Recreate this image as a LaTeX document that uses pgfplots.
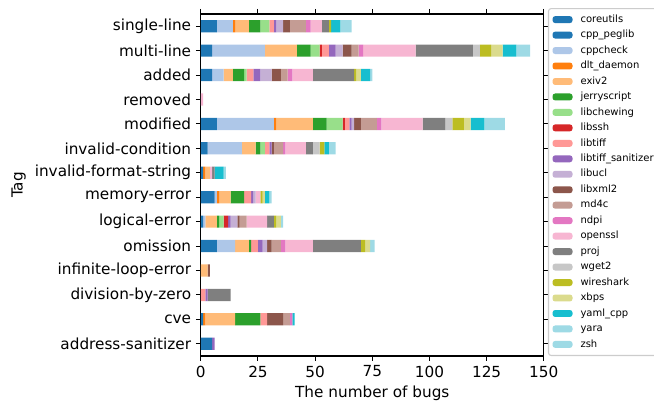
\documentclass[border=0pt]{standalone}
\usepackage{pgfplots}
\pgfplotsset{compat=1.18}
\usepackage{pgfplotstable}
\usepackage{fontspec}
\setmainfont{DejaVu Sans}
\definecolor{c0}{HTML}{1F77B4}
\definecolor{c1}{HTML}{AEC7E8}
\definecolor{c2}{HTML}{FF7F0E}
\definecolor{c3}{HTML}{FFBB78}
\definecolor{c4}{HTML}{2CA02C}
\definecolor{c5}{HTML}{98DF8A}
\definecolor{c6}{HTML}{D62728}
\definecolor{c7}{HTML}{FF9896}
\definecolor{c8}{HTML}{9467BD}
\definecolor{c9}{HTML}{C5B0D5}
\definecolor{c10}{HTML}{8C564B}
\definecolor{c11}{HTML}{C49C94}
\definecolor{c12}{HTML}{E377C2}
\definecolor{c13}{HTML}{F7B6D2}
\definecolor{c14}{HTML}{7F7F7F}
\definecolor{c15}{HTML}{C7C7C7}
\definecolor{c16}{HTML}{BCBD22}
\definecolor{c17}{HTML}{DBDB8D}
\definecolor{c18}{HTML}{17BECF}
\definecolor{c19}{HTML}{9EDAE5}

% rows: 0 address-sanitizer ... 13 single-line
\pgfplotstableread{
y  co cp cc dl ex je ch ss ti ts uc xm md nd os pr wg ws xb ya yr zs
0  5  0  0  0  0  0  0  0  0  1  0  0  0  0  0  0  0  0  0  0  0  0
1  1  0  0  1  13 11 0  0  3  0  0  7  3  1  0  0  0  0  0  1  0  0
2  0  0  0  0  0  0  0  0  2  1  0  0  0  0  0  10 0  0  0  0  0  0
3  0  0  0  0  3  0  0  0  0  0  0  1  0  0  0  0  0  0  0  0  0  0
4  7  0  8  0  6  1  0  0  3  2  2  2  4  2  12 21 0  2  2  0  2  0
5  1  0  1  0  5  1  2  2  0  1  3  1  3  0  9  3  0  1  2  0  1  0
6  6  0  1  1  5  6  0  0  3  1  1  0  0  0  2  0  0  1  1  2  1  0
7  1  0  0  1  2  0  0  0  0  0  0  0  0  0  1  1  0  0  0  4  1  0
8  3  0  15 0  6  2  2  0  2  1  0  1  4  1  9  3  3  2  0  2  3  0
9  7  0  25 1  16 6  7  1  2  1  1  3  7  2  18 10 3  5  3  6  9  0
10 0  0  0  0  0  0  0  0  0  0  0  0  0  0  1  0  0  0  0  0  0  0
11 5  0  5  0  4  5  1  0  3  3  5  4  3  2  9  18 0  1  2  4  1  0
12 5  0  23 0  14 6  4  1  3  3  3  4  3  2  23 25 3  5  5  6  6  0
13 7  0  7  1  6  5  4  0  2  1  3  3  7  2  5  3  0  1  0  4  5  0
}\data

\begin{document}
\begin{tikzpicture}
\path[use as bounding box] (-150.6pt,-35.25pt) rectangle (339.9pt,267pt);
\begin{axis}[
  at={(0,0)}, anchor=south west,
  scale only axis,
  width=257.25pt, height=256.5pt,
  xbar stacked, bar width=0.5,
  xmin=0, xmax=150, ymin=-0.5, ymax=13.5,
  xtick={0,25,...,150},
  ytick={0,...,13},
  yticklabels={address-sanitizer,cve,division-by-zero,infinite-loop-error,omission,logical-error,memory-error,invalid-format-string,invalid-condition,modified,removed,added,multi-line,single-line},
  tick align=outside,
  major tick length=3.75pt,
  tick style={black, line width=0.8pt},
  axis line style={black, line width=0.8pt},
  ticklabel style={font=\fontsize{11.45}{13}\selectfont},
  label style={font=\fontsize{11.45}{13}\selectfont},
  /pgf/number format/assume math mode=true,
  xlabel={The number of bugs},
  ylabel={Tag},
  xlabel style={at={(axis description cs:0.5,-0.1082)}, anchor=center},
  ylabel style={at={(axis description cs:-0.5314,0.5)}, anchor=center},
  every axis plot/.append style={draw=none},
  legend cell align=left,
  legend image code/.code={\fill[#1,draw=none] (0pt,-2.6pt) rectangle (15pt,2.6pt);},
  legend style={
    at={(1.0122,1.0175)}, anchor=north west,
    draw=black!20, line width=0.8pt, rounded corners=2pt, fill=white,
    font=\fontsize{7.5}{9}\selectfont,
    inner xsep=3pt, inner ysep=4.5pt,
    row sep=4pt, column sep=6pt,
    nodes={inner sep=0pt, text height=5.8pt, text depth=1.8pt},
  },
]
\addplot[fill=c0]  table[x=co,y=y]{\data}; \addlegendentry{coreutils}
\addplot[fill=c0]  table[x=cp,y=y]{\data}; \addlegendentry{cpp\_peglib}
\addplot[fill=c1]  table[x=cc,y=y]{\data}; \addlegendentry{cppcheck}
\addplot[fill=c2]  table[x=dl,y=y]{\data}; \addlegendentry{dlt\_daemon}
\addplot[fill=c3]  table[x=ex,y=y]{\data}; \addlegendentry{exiv2}
\addplot[fill=c4]  table[x=je,y=y]{\data}; \addlegendentry{jerryscript}
\addplot[fill=c5]  table[x=ch,y=y]{\data}; \addlegendentry{libchewing}
\addplot[fill=c6]  table[x=ss,y=y]{\data}; \addlegendentry{libssh}
\addplot[fill=c7]  table[x=ti,y=y]{\data}; \addlegendentry{libtiff}
\addplot[fill=c8]  table[x=ts,y=y]{\data}; \addlegendentry{libtiff\_sanitizer}
\addplot[fill=c9]  table[x=uc,y=y]{\data}; \addlegendentry{libucl}
\addplot[fill=c10] table[x=xm,y=y]{\data}; \addlegendentry{libxml2}
\addplot[fill=c11] table[x=md,y=y]{\data}; \addlegendentry{md4c}
\addplot[fill=c12] table[x=nd,y=y]{\data}; \addlegendentry{ndpi}
\addplot[fill=c13] table[x=os,y=y]{\data}; \addlegendentry{openssl}
\addplot[fill=c14] table[x=pr,y=y]{\data}; \addlegendentry{proj}
\addplot[fill=c15] table[x=wg,y=y]{\data}; \addlegendentry{wget2}
\addplot[fill=c16] table[x=ws,y=y]{\data}; \addlegendentry{wireshark}
\addplot[fill=c17] table[x=xb,y=y]{\data}; \addlegendentry{xbps}
\addplot[fill=c18] table[x=ya,y=y]{\data}; \addlegendentry{yaml\_cpp}
\addplot[fill=c19] table[x=yr,y=y]{\data}; \addlegendentry{yara}
\addplot[fill=c19] table[x=zs,y=y]{\data}; \addlegendentry{zsh}
\end{axis}
\end{tikzpicture}
\end{document}
